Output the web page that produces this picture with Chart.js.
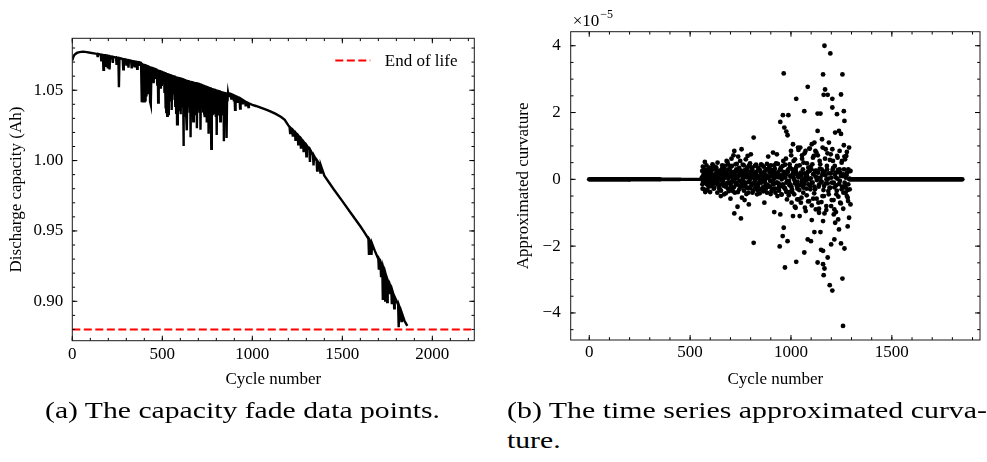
<!DOCTYPE html>
<html><head><meta charset="utf-8">
<script src="https://cdn.jsdelivr.net/npm/chart.js@4/dist/chart.umd.min.js"></script>
<style>
html,body{margin:0;padding:0;background:#fff;width:987px;height:462px;overflow:hidden;}
#c1{position:absolute;left:0;top:0;}
#c2{position:absolute;left:500px;top:0;}
.cap{position:absolute;font-family:'Liberation Serif',serif;font-size:24px;line-height:24px;white-space:nowrap;color:#000;transform-origin:0 0;}
</style></head><body>
<canvas id="c1" width="490" height="400"></canvas>
<canvas id="c2" width="487" height="400"></canvas>
<div id="capA" class="cap">(a) The capacity fade data points.</div>
<div id="capB1" class="cap">(b) The time series approximated curva-</div>
<div id="capB2" class="cap">ture.</div>
<script>
// ---------------- DATA ----------------
// (a) discharge capacity [cycle, Ah]
const capEarly = [
[0,1.0712],[5,1.0735],[12,1.0752],[25,1.0765],[40,1.0771],[60,1.0774],[80,1.0771],[100,1.0766],[120,1.0762],
[138,1.0758],[141,1.0735],[144,1.0757],[158,1.0753],[161,1.0712],[164,1.0752],[170,1.0750],[173,1.0645],[176,1.0749],
[182,1.0748],[185,1.0665],[188,1.0747],[194,1.0746],[197,1.0655],[200,1.0744],[204,1.0743],[207,1.0648],[210,1.0742],
[222,1.0738],[225,1.0695],[228,1.0737],[243,1.0733],[246,1.0680],[249,1.0732],[256,1.0729],[259,1.0522],[262,1.0728],
[280,1.0722],[283,1.0648],[286,1.0721],[297,1.0718],[300,1.0682],[303,1.0716],[309,1.0714],[312,1.0660],[315,1.0713],
[327,1.0709],[330,1.0655],[333,1.0708],[342,1.0705],[345,1.0670],[348,1.0704],[357,1.0701],[360,1.0652],[363,1.0700],
[369,1.0698],[372,1.0680],[375,1.0697],[382,1.0694]
];
const capDense = [
[385,1.0692],[387,1.0415],[390,1.0690],[392,1.0412],[395,1.0688],[397,1.0418],[400,1.0686],[402,1.0413],[405,1.0684],[407,1.0420],
[410,1.0681],[412,1.0455],[415,1.0679],[417,1.0530],[420,1.0676],[422,1.0480],[425,1.0674],[427,1.0505],[430,1.0671],[432,1.0420],
[435,1.0669],[437,1.0398],[440,1.0666],[442,1.0560],[445,1.0664],[447,1.0610],[450,1.0661],[452,1.0550],[455,1.0659],[457,1.0600],
[460,1.0656],[462,1.0580],[465,1.0653],[467,1.0620],[470,1.0650],[472,1.0540],[475,1.0648],[477,1.0412],[480,1.0645],[482,1.0590],
[485,1.0643],[487,1.0560],[490,1.0640],[492,1.0510],[495,1.0638],[497,1.0530],[500,1.0635],[502,1.0600],[505,1.0633],[507,1.0570],
[510,1.0630],[512,1.0480],[515,1.0628],[517,1.0370],[520,1.0625],[522,1.0345],[525,1.0623],[527,1.0318],[530,1.0620],[532,1.0330],
[535,1.0618],[537,1.0500],[540,1.0615],[542,1.0450],[545,1.0613],[547,1.0420],[550,1.0610],[552,1.0360],[555,1.0608],[557,1.0520],
[560,1.0606],[562,1.0470],[565,1.0604],[567,1.0430],[570,1.0602],[572,1.0390],[575,1.0600],[577,1.0340],[580,1.0598],[582,1.0258],
[585,1.0596],[587,1.0400],[590,1.0594],[592,1.0440],[595,1.0592],[597,1.0350],[600,1.0590],[602,1.0330],[605,1.0588],[607,1.0460],
[610,1.0586],[612,1.0380],[615,1.0584],[617,1.0104],[620,1.0581],[622,1.0400],[625,1.0579],[627,1.0320],[630,1.0577],[632,1.0340],
[635,1.0575],[637,1.0215],[640,1.0572],[642,1.0420],[645,1.0570],[647,1.0380],[650,1.0568],[652,1.0340],[655,1.0567],[657,1.0166],
[660,1.0565],[662,1.0400],[665,1.0564],[667,1.0350],[670,1.0562],[672,1.0280],[675,1.0561],[677,1.0330],[680,1.0559],[682,1.0380],
[685,1.0558],[687,1.0330],[690,1.0556],[692,1.0230],[695,1.0555],[697,1.0400],[700,1.0553],[702,1.0360],[705,1.0550],[707,1.0340],
[710,1.0548],[712,1.0220],[715,1.0545],[717,1.0420],[720,1.0543],[722,1.0380],[725,1.0540],[727,1.0350],[730,1.0538],[732,1.0340],
[735,1.0535],[737,1.0310],[740,1.0533],[742,1.0420],[745,1.0530],[747,1.0270],[750,1.0528],[752,1.0340],[755,1.0525],[757,1.0190],
[760,1.0523],[762,1.0320],[765,1.0521],[767,1.0340],[770,1.0519],[772,1.0083],[775,1.0516],[777,1.0330],[780,1.0514],[782,1.0360],
[785,1.0512],[787,1.0330],[790,1.0510],[792,1.0340],[795,1.0507],[797,1.0310],[800,1.0505],[802,1.0182],[805,1.0503],[807,1.0380],
[810,1.0501],[812,1.0320],[815,1.0499],[817,1.0350],[820,1.0497],[822,1.0280],[825,1.0495],[827,1.0400],[830,1.0493],[832,1.0360],
[835,1.0491],[837,1.0340],[840,1.0489],[842,1.0137],[845,1.0487],[847,1.0380],[850,1.0485],[852,1.0330],[855,1.0483],[857,1.0160],
[860,1.0481],[862,1.0420],[865,1.0479],[867,1.0450],[870,1.0478]
];
const capLate = [
[872,1.0477],[880,1.0472],[883,1.0440],[886,1.0470],[895,1.0465],[898,1.0420],[901,1.0462],[904,1.0360],[907,1.0458],
[915,1.0453],[918,1.0410],[921,1.0450],[929,1.0445],[932,1.0370],[935,1.0440],[944,1.0432],[947,1.0400],[950,1.0428],
[960,1.0420],[963,1.0385],[966,1.0416],[975,1.0410],[978,1.0380],[981,1.0407],[990,1.0402],[1000,1.0396],[1020,1.0388],
[1050,1.0374],[1080,1.0360],[1100,1.0350],[1130,1.0332],[1160,1.0310],[1180,1.0290],[1190,1.0270],[1200,1.0250],
[1207,1.0238],[1210,1.0195],[1213,1.0232],[1222,1.0220],[1225,1.0170],[1228,1.0214],[1237,1.0200],[1240,1.0140],[1243,1.0194],
[1252,1.0178],[1255,1.0115],[1258,1.0174],[1267,1.0158],[1270,1.0085],[1273,1.0152],[1282,1.0134],[1285,1.0060],[1288,1.0128],
[1297,1.0112],[1300,1.0030],[1303,1.0106],[1317,1.0080],[1320,0.9990],[1323,1.0074],[1337,1.0040],[1340,0.9965],[1343,1.0034],
[1357,1.0000],[1360,0.9930],[1363,0.9994],[1375,0.9970],[1378,0.9915],[1381,0.9964],[1400,0.9893],[1450,0.9800],[1500,0.9712],
[1550,0.9622],[1600,0.9533],[1620,0.9495],[1640,0.9455],[1645,0.9442],[1648,0.9330],[1651,0.9436],[1658,0.9420],[1662,0.9330],
[1665,0.9410],[1680,0.9360],[1700,0.9300],[1703,0.9225],[1706,0.9290],[1712,0.9270],[1715,0.9180],[1718,0.9260],[1722,0.9245],
[1725,0.9010],[1728,0.9235],[1735,0.9200],[1738,0.9005],[1741,0.9190],[1746,0.9165],[1749,0.8995],[1752,0.9150],[1760,0.9120],
[1763,0.9050],[1766,0.9110],[1772,0.9085],[1775,0.8980],[1778,0.9075],[1785,0.9045],[1788,0.8950],[1791,0.9030],[1800,0.9005],
[1810,0.8975],[1813,0.8815],[1816,0.8965],[1825,0.8930],[1828,0.8860],[1831,0.8915],[1845,0.8862],[1861,0.8825]
];
const endOfLife = [0.88];
const legendLabels = ['End of life'];
const leftXTicks = [0, 500, 1000, 1500, 2000];
const leftYTicks = [0.90, 0.95, 1.00, 1.05];
const leftXRange = [0, 2233];
const leftYRange = [0.872, 1.0869];

// (b) approximated curvature (x 1e-5) [cycle, value]
const zeroBandLeft = [0, 200, 350, 450, 555];
const zeroBandRight = [1290, 1849];
const curvCore = [
[558,0.05],[564,-0.08],[570,0.02],[576,0.10],[582,-0.04],[588,0.15],[594,-0.12],[600,0.06],[606,-0.02],[612,0.12],
[618,-0.10],[624,0.03],[630,0.18],[636,-0.06],[642,0.08],[648,-0.15],[654,0.00],[660,0.14],[666,-0.09],[672,0.05],
[678,0.20],[684,-0.12],[690,0.02],[696,0.10],[702,-0.18],[708,0.07],[714,-0.04],[720,0.16],[726,-0.10],[732,0.04],
[738,0.12],[744,-0.06],[750,0.20],[756,-0.14],[762,0.02],[768,0.09],[774,-0.20],[780,0.06],[786,0.15],[792,-0.08],
[798,0.01],[804,0.18],[810,-0.12],[816,0.05],[822,-0.03],[828,0.13],[834,-0.16],[840,0.08],[846,0.00],[852,-0.10],
[858,0.16],[864,0.04],[870,-0.07],[876,0.12],[882,-0.18],[888,0.06],[894,0.20],[900,-0.05],[906,0.10],[912,-0.14],
[918,0.03],[924,0.17],[930,-0.09],[936,0.06],[942,-0.20],[948,0.12],[954,0.00],[960,-0.15],[966,0.18],[972,0.05],
[978,-0.10],[984,0.22],[990,-0.05],[996,0.10],[1002,-0.22],[1008,0.15],[1014,0.02],[1020,-0.12],[1026,0.20],[1032,-0.08],
[1038,0.06],[1044,-0.18],[1050,0.12],[1056,0.00],[1062,-0.25],[1068,0.18],[1074,-0.04],[1080,0.10],[1086,-0.15],[1092,0.25],
[1098,0.03],[1104,-0.10],[1110,0.15],[1116,-0.22],[1122,0.08],[1128,-0.02],[1134,0.20],[1140,-0.15],[1146,0.05],[1152,-0.08],
[1158,0.22],[1164,-0.20],[1170,0.12],[1176,0.00],[1182,-0.12],[1188,0.18],[1194,-0.25],[1200,0.05],[1206,0.28],[1212,-0.10],
[1218,0.15],[1224,-0.18],[1230,0.02],[1236,0.22],[1242,-0.05],[1248,0.10],[1254,-0.22],[1260,0.15],[1266,-0.10],[1272,0.05],
[1278,0.20],[1284,-0.15],[1290,0.02]
];
const curvCore2 = [
[561,-0.15],[567,0.22],[573,-0.05],[579,0.28],[585,0.10],[591,-0.22],[597,0.04],[603,0.25],[609,-0.18],[615,0.08],
[621,0.30],[627,-0.12],[633,0.02],[639,0.24],[645,-0.26],[651,0.12],[657,-0.02],[663,0.28],[669,-0.20],[675,0.06],
[681,0.18],[687,-0.28],[693,0.10],[699,0.26],[705,-0.08],[711,0.20],[717,-0.24],[723,0.04],[729,0.30],[735,-0.16],
[741,0.12],[747,-0.04],[753,0.26],[759,-0.22],[765,0.08],[771,0.18],[777,-0.10],[783,0.28],[789,-0.26],[795,0.02],
[801,0.22],[807,-0.14],[813,0.10],[819,-0.28],[825,0.16],[831,0.04],[837,-0.20],[843,0.26],[849,-0.06],[855,0.12],
[861,-0.24],[867,0.20],[873,0.00],[879,-0.16],[885,0.30],[891,0.08],[897,-0.22],[903,0.14],[909,-0.04],[915,0.24],
[921,-0.28],[927,0.10],[933,0.20],[939,-0.12],[945,0.28],[951,-0.20],[957,0.04],[963,0.22],[969,-0.26],[975,0.14],
[981,-0.06],[987,0.30],[993,-0.18],[999,0.08],[1005,-0.30],[1011,0.20],[1017,-0.02],[1023,0.26],[1029,-0.20],[1035,0.10],
[1041,-0.32],[1047,0.18],[1053,-0.08],[1059,0.30],[1065,-0.14],[1071,0.06],[1077,-0.28],[1083,0.22],[1089,0.00],[1095,-0.20],
[1101,0.30],[1107,-0.10],[1113,0.16],[1119,-0.30],[1125,0.26],[1131,0.04],[1137,-0.22],[1143,0.32],[1149,-0.06],[1155,0.14],
[1161,-0.32],[1167,0.22],[1173,-0.12],[1179,0.30],[1185,0.02],[1191,-0.26],[1197,0.18],[1203,-0.10],[1209,0.34],[1215,-0.24],
[1221,0.06],[1227,-0.34],[1233,0.28],[1239,-0.14],[1245,0.20],[1251,-0.30],[1257,0.10],[1263,0.30],[1269,-0.20],[1275,0.12],
[1281,-0.32],[1287,0.24]
];
const curvCore3 = [
[563,0.38],[569,-0.30],[575,0.20],[581,0.42],[587,-0.12],[593,0.32],[599,-0.38],[605,0.18],[611,0.45],[617,-0.28],
[623,-0.06],[629,0.36],[635,-0.40],[641,0.26],[647,0.10],[653,-0.34],[659,0.42],[665,-0.18],[671,0.30],[677,-0.42],
[683,0.08],[689,0.44],[695,-0.30],[701,0.16],[707,0.40],[713,-0.36],[719,0.22],[725,-0.10],[731,0.46],[737,-0.38],
[743,0.34],[749,-0.22],[755,0.12],[761,0.44],[767,-0.34],[773,0.28],[779,-0.44],[785,0.14],[791,0.40],[797,-0.26],
[803,0.36],[809,-0.40],[815,0.20],[821,-0.14],[827,0.44],[833,-0.32],[839,0.30],[845,-0.42],[851,0.16],[857,0.42],
[863,-0.36],[869,0.24],[875,-0.28],[881,0.46],[887,-0.18],[893,0.38],[899,-0.44],[905,0.28],[911,-0.30],[917,0.42],
[923,-0.40],[929,0.18],[935,0.46],[941,-0.34],[947,0.30],[953,-0.46],[959,0.40],[965,-0.24],[971,0.44],[977,-0.38],
[983,0.26],[989,-0.48],[995,0.36],[1001,0.72],[1007,-0.38],[1013,0.55],[1019,-0.82],[1025,0.35],[1031,-0.60],[1037,0.88],
[1043,0.42],[1049,-0.70],[1055,0.62],[1061,-0.40],[1067,0.78],[1073,-0.95],[1079,0.48],[1085,-0.66],[1091,0.92],[1097,0.38],
[1103,-0.78],[1109,0.65],[1115,-0.42],[1121,0.85],[1127,-0.58],[1133,0.72],[1139,-0.88],[1145,0.45],[1151,-0.68],[1157,0.95],
[1163,-0.50],[1169,0.62],[1175,-0.92],[1181,0.78],[1187,-0.45],[1193,0.58],[1199,-0.80],[1205,0.90],[1211,-0.62],[1217,0.40],
[1223,-0.98],[1229,0.70],[1235,-0.52],[1241,0.85],[1247,-0.72],[1253,0.55],[1259,-0.88],[1265,0.68],[1271,-0.40],[1277,0.82],
[1283,-0.65]
];
const curvScatter = [
[560,0.25],[562,-0.28],[565,0.12],[567,-0.10],[570,0.30],[573,0.52],[575,-0.38],[578,0.05],[580,0.18],[583,-0.15],
[586,-0.32],[588,0.08],[592,0.22],[595,-0.05],[598,0.35],[600,-0.20],[604,0.10],[607,0.28],[610,-0.12],[613,0.02],
[616,0.40],[620,-0.25],[623,0.15],[626,0.05],[630,-0.08],[633,0.20],[636,0.50],[640,-0.18],[643,0.12],[646,-0.30],
[650,0.25],[652,-0.50],[655,0.08],[658,0.32],[662,-0.05],[665,0.18],[668,-0.45],[671,0.40],[675,0.10],[678,-0.22],
[681,0.55],[685,0.52],[688,-0.10],[690,0.30],[693,-0.35],[696,0.15],[700,-0.58],[702,0.38],[705,0.62],[708,-0.28],
[711,0.05],[715,0.72],[719,0.85],[719,-1.02],[722,-0.40],[725,0.45],[728,-0.15],[732,0.25],[735,-0.82],[738,0.68],
[741,0.10],[744,-0.30],[748,0.55],[752,-1.17],[755,0.90],[757,-0.55],[760,0.20],[763,-0.05],[766,0.42],[770,-0.62],
[773,0.15],[776,0.60],[780,-0.25],[783,0.35],[785,0.70],[788,-0.40],[791,-0.75],[794,0.12],[797,0.48],[801,0.75],
[804,-0.18],[808,0.30],[811,-0.35],[815,1.25],[815,-1.90],[818,0.05],[821,0.40],[825,-0.20],[828,0.22],[832,-0.45],
[835,0.10],[838,0.35],[842,-0.10],[845,0.28],[848,-0.30],[852,0.45],[855,-0.08],[858,0.18],[862,-0.25],[865,0.38],
[868,-0.70],[871,0.12],[875,-0.15],[878,0.30],[881,-0.40],[884,0.05],[887,0.68],[890,-0.22],[894,0.25],[897,-0.05],
[900,0.42],[903,-0.35],[906,0.15],[911,0.80],[914,-0.28],[917,-0.98],[920,0.32],[923,-0.12],[926,0.48],[930,0.75],
[933,-0.50],[936,0.20],[940,-0.25],[944,-2.01],[947,1.72],[947,-1.05],[950,0.35],[953,-0.45],[956,0.10],[959,-1.70],
[960,1.92],[962,0.55],[964,3.17],[964,-1.45],[967,1.55],[970,-2.64],[972,-0.30],[975,0.62],[977,1.43],[980,-0.60],
[983,1.32],[983,-1.85],[985,0.25],[987,1.92],[990,-0.38],[993,0.45],[996,-0.15],[1000,0.85],[1003,-0.70],[1006,0.30],
[1010,1.05],[1010,-1.10],[1013,0.12],[1016,-0.45],[1020,0.60],[1023,-0.85],[1026,2.41],[1026,-2.47],[1029,0.40],[1032,-0.28],
[1035,0.95],[1038,-0.60],[1043,-1.10],[1046,0.95],[1049,0.20],[1052,-0.55],[1055,0.72],[1058,-0.20],[1062,0.50],[1066,2.04],
[1066,-2.19],[1069,-0.85],[1072,0.85],[1075,0.10],[1078,-0.48],[1083,2.77],[1083,-1.80],[1086,0.35],[1090,-0.65],[1093,0.92],
[1096,-0.30],[1099,-1.85],[1103,1.05],[1103,-1.22],[1106,0.45],[1110,-0.58],[1113,0.70],[1116,1.10],[1116,-1.58],[1120,0.25],
[1123,-0.90],[1126,0.80],[1129,0.05],[1132,1.97],[1132,1.45],[1132,-2.49],[1136,-0.70],[1139,-1.00],[1142,0.55],[1146,1.97],
[1146,-1.58],[1149,-2.11],[1152,0.30],[1154,1.20],[1156,-0.50],[1159,3.14],[1159,-2.54],[1159,-2.14],[1159,-1.25],[1162,2.53],
[1162,-2.87],[1166,4.00],[1166,-2.67],[1166,-1.02],[1169,2.69],[1172,0.90],[1175,-0.80],[1178,0.40],[1182,2.53],[1182,-2.34],
[1185,-0.35],[1188,1.10],[1192,-3.17],[1195,3.77],[1197,0.75],[1199,-1.95],[1202,-0.62],[1205,2.41],[1205,2.15],[1205,-3.33],
[1208,0.55],[1212,-1.05],[1215,-0.90],[1215,-1.80],[1219,1.40],[1219,-1.30],[1222,0.20],[1225,-0.45],[1228,1.95],[1231,0.65],
[1234,-1.20],[1238,1.45],[1238,-1.50],[1241,0.30],[1244,-0.70],[1248,2.54],[1248,1.36],[1248,-1.92],[1251,0.50],[1255,3.14],
[1255,-2.97],[1258,-4.39],[1260,-0.40],[1262,2.04],[1262,1.02],[1265,1.75],[1265,-2.07],[1268,0.60],[1271,-0.25],[1274,0.70],
[1277,-0.50],[1281,-1.41],[1281,-0.55],[1284,0.30],[1288,0.95],[1288,-1.15],[1291,-0.30],[1295,-0.75],[1295,0.25]
];
const rightXTicks = [0, 500, 1000, 1500];
const rightYTicks = [-4, -2, 0, 2, 4];
const rightXRange = [-92, 1937];
const rightYRange = [-4.81, 4.42];
const expLabel = ['\u00d710', '\u22125'];

// ---------------- STYLE / LAYOUT ----------------
const FONT = "'Liberation Serif', 'Times New Roman', serif";
Chart.defaults.font.family = FONT;
Chart.defaults.font.size = 17;
Chart.defaults.color = '#000';

const frameTicks = {
  id: 'frameTicks',
  afterDatasetsDraw(chart, args, opts) {
    const {ctx, chartArea: a, scales: {x, y}} = chart;
    ctx.save();
    ctx.strokeStyle = '#000';
    ctx.lineWidth = 1;
    ctx.beginPath();
    const majL = 5, minL = 2.8;
    const xt = (v, L) => {
      const p = x.getPixelForValue(v);
      if (p < a.left - 0.5 || p > a.right + 0.5) return;
      ctx.moveTo(p, a.bottom); ctx.lineTo(p, a.bottom - L);
      ctx.moveTo(p, a.top); ctx.lineTo(p, a.top + L);
    };
    const yt = (v, L) => {
      const p = y.getPixelForValue(v);
      if (p < a.top - 0.5 || p > a.bottom + 0.5) return;
      ctx.moveTo(a.left, p); ctx.lineTo(a.left + L, p);
      ctx.moveTo(a.right, p); ctx.lineTo(a.right - L, p);
    };
    x.ticks.forEach(t => xt(t.value, majL));
    y.ticks.forEach(t => yt(t.value, majL));
    const n0 = Math.ceil(x.min / opts.xMinor - 1e-9), n1 = Math.floor(x.max / opts.xMinor + 1e-9);
    for (let n = n0; n <= n1; n++) xt(n * opts.xMinor, minL);
    const m0 = Math.ceil(y.min / opts.yMinor - 1e-9), m1 = Math.floor(y.max / opts.yMinor + 1e-9);
    for (let m = m0; m <= m1; m++) yt(m * opts.yMinor, minL);
    ctx.stroke();
    ctx.strokeStyle = '#1a1a1a';
    ctx.strokeRect(a.left, a.top, a.right - a.left, a.bottom - a.top);
    ctx.restore();
  }
};

const legendPlugin = {
  id: 'eolLegend',
  afterDatasetsDraw(chart) {
    const {ctx, chartArea: a} = chart;
    ctx.save();
    ctx.strokeStyle = '#ff0000';
    ctx.lineWidth = 2;
    ctx.setLineDash([8, 3.5]);
    ctx.beginPath();
    ctx.moveTo(a.right - 139, a.top + 22.3);
    ctx.lineTo(a.right - 104, a.top + 22.3);
    ctx.stroke();
    ctx.setLineDash([]);
    ctx.fillStyle = '#000';
    ctx.font = '17px ' + FONT;
    ctx.textBaseline = 'middle';
    ctx.textAlign = 'left';
    ctx.fillText(legendLabels[0], a.right - 89.5, a.top + 23);
    ctx.restore();
  }
};

const expPlugin = {
  id: 'expLabel',
  afterDraw(chart) {
    const {ctx, chartArea: a} = chart;
    ctx.save();
    ctx.fillStyle = '#000';
    ctx.textBaseline = 'alphabetic';
    ctx.textAlign = 'left';
    ctx.font = '17px ' + FONT;
    const x0 = a.left + 2;
    ctx.fillText(expLabel[0], x0, 25.5);
    const w = ctx.measureText(expLabel[0]).width;
    ctx.font = '12px ' + FONT;
    ctx.fillText(expLabel[1], x0 + w + 1, 17.5);
    ctx.restore();
  }
};

const toXY = arr => arr.map(p => ({x: p[0], y: p[1]}));
const capacityPoints = toXY(capEarly.concat(capDense, capLate));

new Chart(document.getElementById('c1'), {
  type: 'line',
  data: {
    datasets: [
      {data: capacityPoints, borderColor: '#000', borderWidth: 2.4, pointRadius: 0, tension: 0, fill: false, order: 1, borderJoinStyle: 'miter'},
      {data: [{x: leftXRange[0], y: endOfLife[0]}, {x: leftXRange[1], y: endOfLife[0]}], borderColor: '#ff0000', borderWidth: 2, borderDash: [8, 3.5], pointRadius: 0, fill: false, order: 0}
    ]
  },
  options: {
    animation: false, responsive: false, devicePixelRatio: 1, events: [],
    layout: {padding: {top: 38.3, right: 15.7, left: 0, bottom: 0}},
    plugins: {legend: {display: false}, tooltip: {enabled: false}, frameTicks: {xMinor: 100, yMinor: 0.01}},
    scales: {
      x: {
        type: 'linear', min: leftXRange[0], max: leftXRange[1],
        afterBuildTicks: s => { s.ticks = leftXTicks.map(v => ({value: v})); },
        afterFit: s => { s.height = 59.3; },
        grid: {display: false, drawTicks: false}, border: {display: false},
        ticks: {padding: 4.1, maxRotation: 0, autoSkip: false, callback: v => String(v)},
        title: {display: true, text: 'Cycle number', padding: {top: 0, bottom: 10.3}}
      },
      y: {
        type: 'linear', min: leftYRange[0], max: leftYRange[1],
        afterBuildTicks: s => { s.ticks = leftYTicks.map(v => ({value: v})); },
        afterFit: s => { s.width = 72.3; },
        grid: {display: false, drawTicks: false}, border: {display: false},
        ticks: {padding: 9, autoSkip: false, callback: v => Number(v).toFixed(2)},
        title: {display: true, text: 'Discharge capacity (Ah)', padding: {top: 6.8, bottom: 0}}
      }
    }
  },
  plugins: [frameTicks, legendPlugin]
});

const bandWidths = [4.8, 4.5, 3.8, 3.2];
new Chart(document.getElementById('c2'), {
  type: 'scatter',
  data: {
    datasets: [
      {type: 'line', data: zeroBandLeft.map(c => ({x: c, y: 0})), borderColor: '#000', borderWidth: 4.8, borderCapStyle: 'round', pointRadius: 0, fill: false,
       segment: {borderWidth: ctx => bandWidths[ctx.p0DataIndex]}},
      {type: 'line', data: zeroBandRight.map(c => ({x: c, y: 0})), borderColor: '#000', borderWidth: 4.8, borderCapStyle: 'round', pointRadius: 0, fill: false},
      {data: toXY(curvCore.concat(curvCore2, curvCore3, curvScatter)), pointRadius: 2.4, pointBackgroundColor: '#000', pointBorderWidth: 0, showLine: false}
    ]
  },
  options: {
    animation: false, responsive: false, devicePixelRatio: 1, events: [],
    layout: {padding: {top: 31.7, right: 7, left: 0, bottom: 0}},
    plugins: {legend: {display: false}, tooltip: {enabled: false}, frameTicks: {xMinor: 100, yMinor: 0.5}},
    scales: {
      x: {
        type: 'linear', min: rightXRange[0], max: rightXRange[1],
        afterBuildTicks: s => { s.ticks = rightXTicks.map(v => ({value: v})); },
        afterFit: s => { s.height = 60; },
        grid: {display: false, drawTicks: false}, border: {display: false},
        ticks: {padding: 2.8, maxRotation: 0, autoSkip: false, callback: v => String(v)},
        title: {display: true, text: 'Cycle number', padding: {top: 0, bottom: 10.3}}
      },
      y: {
        type: 'linear', min: rightYRange[0], max: rightYRange[1],
        afterBuildTicks: s => { s.ticks = rightYTicks.map(v => ({value: v})); },
        afterFit: s => { s.width = 70.7; },
        grid: {display: false, drawTicks: false}, border: {display: false},
        ticks: {padding: 10, autoSkip: false, callback: v => (v < 0 ? '\u2212' + Math.abs(v) : String(v))},
        title: {display: true, text: 'Approximated curvature', padding: {top: 13.8, bottom: 0}}
      }
    }
  },
  plugins: [frameTicks, expPlugin]
});

// ---------------- CAPTIONS ----------------
function placeCaptions() {
  const a = document.getElementById('capA');
  const b1 = document.getElementById('capB1');
  const b2 = document.getElementById('capB2');
  const wa = a.getBoundingClientRect().width;
  const sa = 395 / wa;
  a.style.left = '45px'; a.style.top = '397.6px'; a.style.transform = 'scaleX(' + sa + ')';
  const wb = b1.getBoundingClientRect().width;
  b1.style.left = '507px'; b1.style.top = '397.6px'; b1.style.transform = 'scaleX(' + (480 / wb) + ')';
  b2.style.left = '507px'; b2.style.top = '427.8px'; b2.style.transform = 'scaleX(' + sa + ')';
}
placeCaptions();
</script>
</body></html>
